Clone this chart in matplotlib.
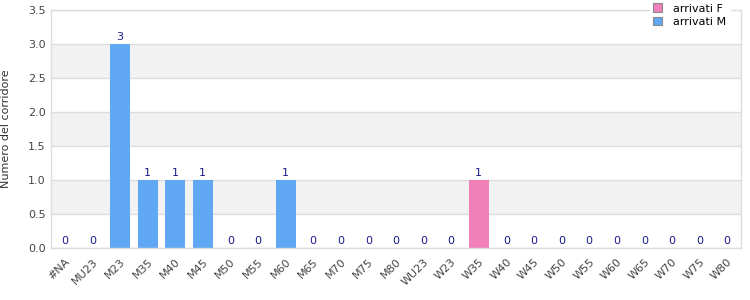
import matplotlib
matplotlib.use("Agg")
import matplotlib.pyplot as plt
import numpy as np

categories = ["#NA", "MU23", "M23", "M35", "M40", "M45", "M50", "M55", "M60", "M65",
              "M70", "M75", "M80", "WU23", "W23", "W35", "W40", "W45", "W50", "W55",
              "W60", "W65", "W70", "W75", "W80"]
arrivati_M = [0, 0, 3, 1, 1, 1, 0, 0, 1, 0, 0, 0, 0, 0, 0, 0, 0, 0, 0, 0, 0, 0, 0, 0, 0]
arrivati_F = [0, 0, 0, 0, 0, 0, 0, 0, 0, 0, 0, 0, 0, 0, 0, 1, 0, 0, 0, 0, 0, 0, 0, 0, 0]
y_ticks = [0.0, 0.5, 1.0, 1.5, 2.0, 2.5, 3.0, 3.5]

col_M = "#60a8f4"
col_F = "#f080b8"

fig = plt.figure(figsize=(7.5, 3.0), dpi=100)
ax = fig.add_axes([51/750, 1 - 248/300, 690/750, 238/300])

x = np.arange(len(categories))
M = np.array(arrivati_M)
F = np.array(arrivati_F)

# bands
for lo in [0.5, 1.5, 2.5]:
    ax.axhspan(lo, lo + 0.5, color="#f2f2f2", zorder=0, lw=0)
for t in y_ticks:
    ax.axhline(t, color="#dddddd", lw=1, zorder=0.5)

ax.bar(x, M, width=0.72, color=col_M, zorder=2, label="arrivati M")
ax.bar(x, F, width=0.72, bottom=M, color=col_F, zorder=2, label="arrivati F")

tot = M + F
for xi, v in zip(x, tot):
    if v == 0:
        ax.text(xi, 0.1, "0", ha="center", va="center", fontsize=8, color="#1a1a8c", zorder=3)
    else:
        ax.text(xi, v + 0.03, str(v), ha="center", va="bottom", fontsize=8, color="#1a1a8c", zorder=3)

ax.set_xlim(-0.5, len(categories) - 0.5)
ax.set_ylim(0, 3.5)
ax.set_yticks(y_ticks)
ax.set_yticklabels([f"{t:.1f}" for t in y_ticks], fontsize=8, color="#444444")
ax.set_xticks(x)
ax.set_xticklabels(categories, rotation=45, ha="right", rotation_mode="anchor",
                   fontsize=8, color="#444444")
ax.tick_params(axis="both", length=0, pad=4)
ax.tick_params(axis="x", pad=6)
ax.set_ylabel("Numero del corridore", fontsize=8, color="#333333", labelpad=12)

for s in ax.spines.values():
    s.set_color("#dddddd")
    s.set_linewidth(1)

handles, labels = ax.get_legend_handles_labels()
leg = ax.legend(handles[::-1], labels[::-1], loc="upper right", bbox_to_anchor=(0.992, 1.065),
                fontsize=8, frameon=True, framealpha=1, edgecolor="white", fancybox=False,
                handlelength=0.8, handleheight=0.8, borderpad=0.3, labelspacing=0.3,
                handletextpad=1.0)
for h in leg.legend_handles:
    h.set_edgecolor("#888888")
    h.set_linewidth(0.8)
leg.set_zorder(5)

fig.savefig("out.png", dpi=100)
